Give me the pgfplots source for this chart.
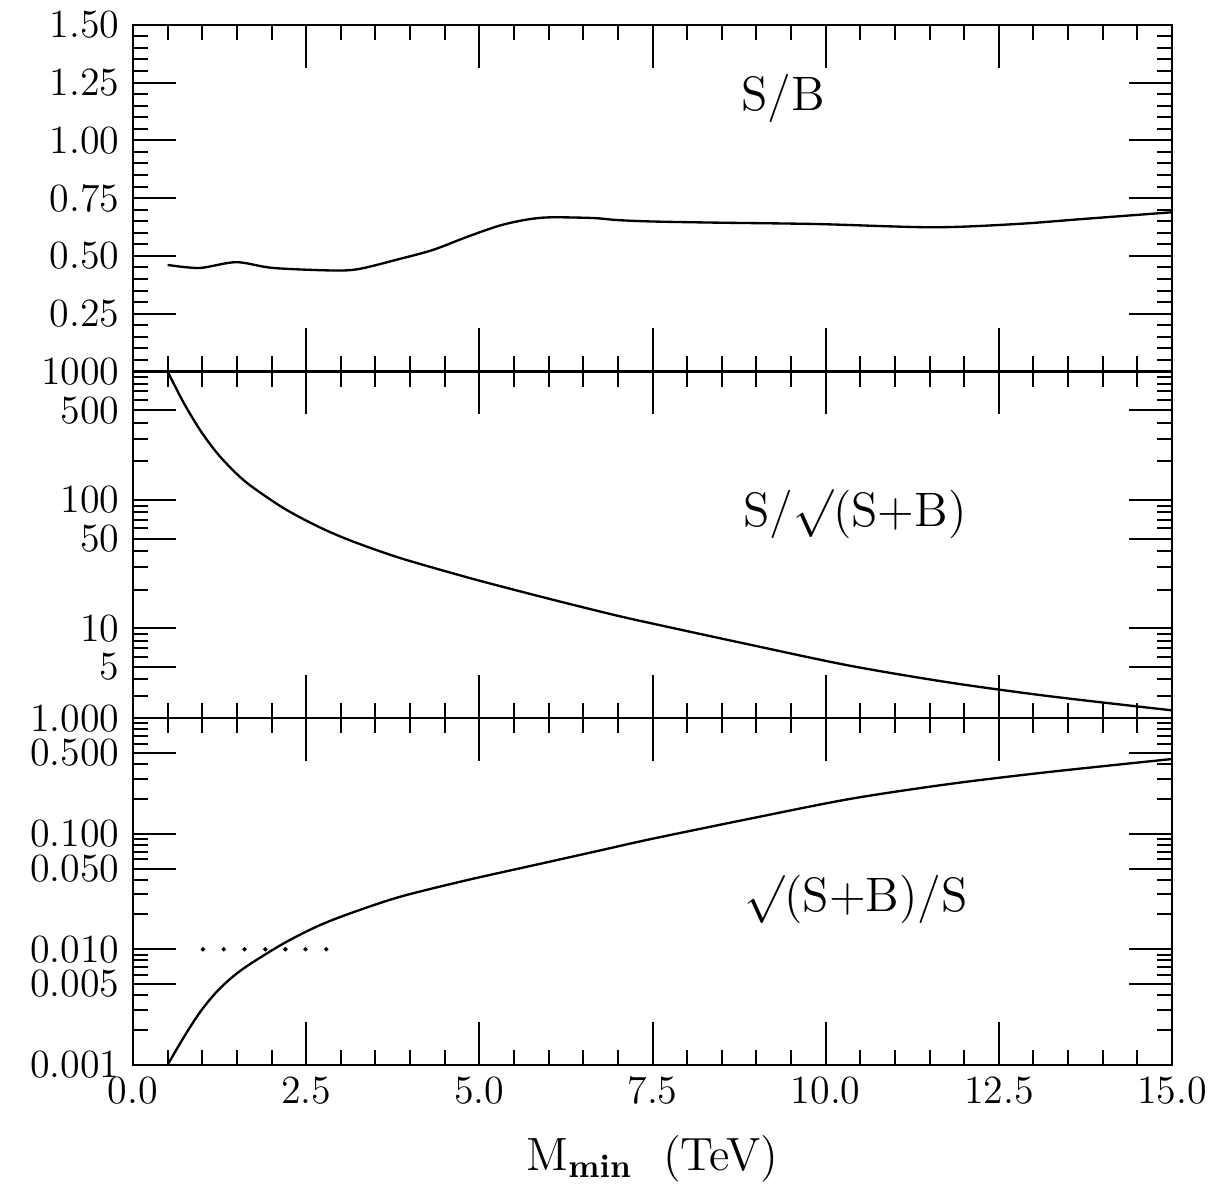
\documentclass[border=0pt]{standalone}
\usepackage{fontspec}
\usepackage{pgfplots}
\pgfplotsset{compat=1.18}

% one panel of the stack; all three share x
\pgfplotsset{
  panel/.style={
    scale only axis, width=311.7pt, height=104pt,
    anchor=south west,
    xmin=0, xmax=15,
    xtick={0,2.5,5,7.5,10,12.5,15}, minor x tick num=4,
    xticklabels={},
    tick align=inside, xtick pos=both, ytick pos=both,
    major tick length=12.9pt, minor tick length=4.6pt,
    tick style={black, line width=0.6pt},
    axis line style={line width=0.7pt},
    /pgf/number format/assume math mode=true,
    tick label style={font=\fontsize{12}{13}\selectfont},
    yticklabel style={xshift=-0.5pt},
  },
  curve/.style={black, line width=0.7pt, smooth, no marks},
}
\tikzset{lab/.style={font=\fontsize{14.5}{16}\selectfont}}

\begin{document}
\begin{tikzpicture}

% top: S/B
\begin{axis}[panel, at={(0,208pt)},
  ymin=0, ymax=1.5,
  ytick={0,0.25,0.5,0.75,1,1.25,1.5},
  yticklabels={,0.25,0.50,0.75,1.00,1.25,1.50},
  minor y tick num=4]
\addplot[curve] coordinates {
(0.50,0.461) (0.96,0.448) (1.49,0.473) (2.02,0.448) (2.89,0.437)
(3.27,0.444) (3.85,0.487) (4.33,0.526) (4.81,0.581) (5.29,0.631)
(5.68,0.657) (6.02,0.667) (6.64,0.664) (7.00,0.655) (7.50,0.649)
(8.43,0.644) (9.87,0.638) (11.55,0.624) (12.75,0.638) (13.72,0.660)
(15.00,0.689)
};
\node[lab] at (axis cs:9.39,1.18) {S/B};
\end{axis}

% middle: S/sqrt(S+B)
\begin{axis}[panel, at={(0,104pt)},
  ymode=log, ymin=2, ymax=1000,
  ytick={5,10,50,100,500,1000},
  yticklabels={5,10,50,100,500,1000},
  minor ytick={3,4,6,7,8,9,20,30,40,60,70,80,90,200,300,400,600,700,800,900}]
\addplot[curve] coordinates {
(0.50,1000) (0.73,573) (0.97,349) (1.21,233) (1.45,169) (1.69,130)
(2.17,86.6) (2.65,62.9) (3.13,48.5) (3.85,35.4) (4.81,25.1) (5.53,19.8)
(6.26,15.7) (6.98,12.6) (7.50,10.9) (8.91,7.46) (10.35,5.12)
(11.80,3.78) (13.24,2.96) (15.00,2.30)
};
\node[lab] at (axis cs:10.42,77.8) {S/$\surd$(S+B)};
\end{axis}

% bottom: sqrt(S+B)/S
\begin{axis}[panel, at={(0,0)},
  ymode=log, ymin=0.001, ymax=1,
  ytick={0.001,0.005,0.01,0.05,0.1,0.5,1},
  yticklabels={0.001,0.005,0.010,0.050,0.100,0.500,1.000},
  minor ytick={0.002,0.003,0.004,0.006,0.007,0.008,0.009,
    0.02,0.03,0.04,0.06,0.07,0.08,0.09,0.2,0.3,0.4,0.6,0.7,0.8,0.9},
  xticklabels={0.0,2.5,5.0,7.5,10.0,12.5,15.0},
  xlabel={M\textsubscript{\textbf{min}}\ \ (TeV)},
  xlabel style={font=\fontsize{14}{16}\selectfont, yshift=-2.4pt}]
\addplot[curve] coordinates {
(0.50,0.001) (0.73,0.00172) (0.97,0.00287) (1.21,0.0043) (1.45,0.00585)
(1.69,0.00745) (2.17,0.0112) (2.65,0.0157) (3.13,0.0204) (3.85,0.0284)
(4.81,0.0395) (5.77,0.0531) (6.74,0.0716) (7.50,0.0905) (8.91,0.135)
(10.35,0.200) (11.80,0.270) (13.24,0.343) (15.00,0.443)
};
\addplot[only marks, mark=*, mark size=0.45pt, black] coordinates {
(1.01,0.01) (1.31,0.01) (1.61,0.01) (1.91,0.01) (2.20,0.01) (2.49,0.01) (2.79,0.01)
};
\node[lab] at (axis cs:10.44,0.0272) {$\surd$(S+B)/S};
\end{axis}

\path (-39.9pt,-36.3pt) rectangle (325.8pt,319.2pt);
\end{tikzpicture}
\end{document}
